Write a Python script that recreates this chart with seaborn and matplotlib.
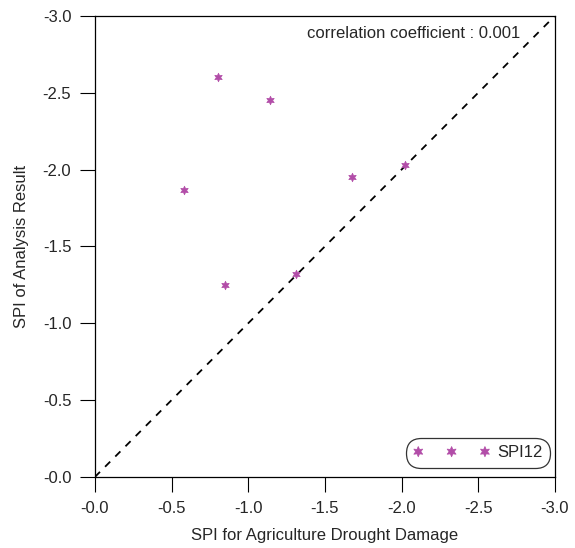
import matplotlib
matplotlib.use("Agg")
import matplotlib.pyplot as plt
import seaborn as sns
import pandas as pd
from matplotlib.ticker import FixedLocator, FuncFormatter

sns.set_style("white")
plt.rcParams['font.family'] = ['Liberation Sans', 'DejaVu Sans']

spi_damage = [-0.80, -1.14, -0.58, -1.68, -2.02, -1.31, -0.85]
spi_analysis = [-2.60, -2.45, -1.87, -1.95, -2.03, -1.32, -1.25]
ticks = [0.0, -0.5, -1.0, -1.5, -2.0, -2.5, -3.0]
series_label = "SPI12"
corr_text = "correlation coefficient : 0.001"

df = pd.DataFrame({"x": spi_damage, "y": spi_analysis})

fig = plt.figure(figsize=(5.75, 5.48), dpi=100)
ax = fig.add_axes([0.165, 0.1296, 0.8, 0.8414])

ax.plot([0, -3], [0, -3], linestyle=(0, (4, 4)), color="black", linewidth=1.3, zorder=1)
sns.scatterplot(data=df, x="x", y="y", ax=ax, marker=(6, 1, 0), s=38,
                color="#B24DA8", edgecolor="#B24DA8", linewidth=0.5,
                label=series_label, zorder=3)

ax.set_xlim(0, -3)
ax.set_ylim(0, -3)
ax.xaxis.set_major_locator(FixedLocator(ticks))
ax.yaxis.set_major_locator(FixedLocator(ticks))
fmt = FuncFormatter(lambda v, p: "-%.1f" % abs(v))
ax.xaxis.set_major_formatter(fmt)
ax.yaxis.set_major_formatter(fmt)
ax.tick_params(axis="both", which="major", direction="out", length=11, width=0.8,
               color="black", labelsize=12, bottom=True, left=True, top=False, right=False,
               pad=6)
for sp in ax.spines.values():
    sp.set_color("black")
    sp.set_linewidth(0.9)

ax.set_xlabel("SPI for Agriculture Drought Damage", fontsize=12, labelpad=9)
ax.set_ylabel("SPI of Analysis Result", fontsize=12, labelpad=10)

ax.text(0.925, 0.962, corr_text, transform=ax.transAxes, ha="right", va="center", fontsize=12)

leg = ax.legend(loc="lower right", scatterpoints=3, scatteryoffsets=[0.5], markerscale=1.2,
                fontsize=12, frameon=True, fancybox=True, edgecolor="#333333",
                borderpad=0.45, handlelength=4.6, handletextpad=0.42, borderaxespad=0,
                bbox_to_anchor=(0.989, 0.0195), framealpha=1)
frame = leg.get_frame()
frame.set_linewidth(0.9)
frame.set_boxstyle("round,pad=0,rounding_size=0.9")

fig.savefig("out.png", dpi=100)
